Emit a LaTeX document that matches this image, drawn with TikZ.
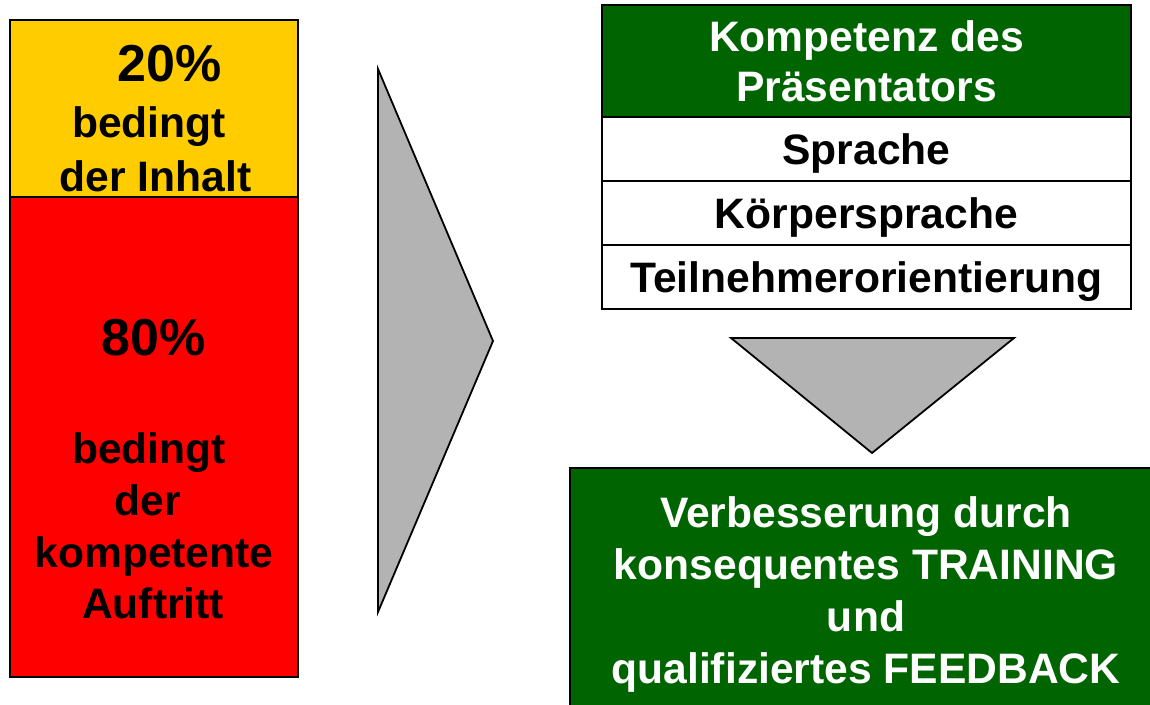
\documentclass[tikz,border=0pt]{standalone}
\usepackage{fontspec}
\setmainfont{Liberation Sans}
\definecolor{boxyellow}{HTML}{FFCC00}
\definecolor{boxred}{HTML}{FF0000}
\definecolor{boxgreen}{HTML}{006400}
\definecolor{arrowgray}{HTML}{B3B3B3}
\begin{document}
\begin{tikzpicture}[x=0.5pt,y=-0.5pt,
  outline/.style={draw=black, line width=0.9pt},
  txt/.style={font=\bfseries\fontsize{21.3}{25}\selectfont, anchor=base, inner sep=0pt},
  wtxt/.style={txt, text=white},
  bigtxt/.style={font=\bfseries\fontsize{26}{30}\selectfont, anchor=base, inner sep=0pt},
]
\useasboundingbox (0,0) rectangle (1150,705);

% left column
\path[outline, fill=boxyellow] (10,20) rectangle (298,197);
\path[outline, fill=boxred] (10,197) rectangle (298,677);

\node[bigtxt] (p20) at (170,82) {20\%};
\node[txt] (y1) at (149,138) {bedingt};
\node[txt] (y2) at (155.5,192) {der Inhalt};

\node[bigtxt] (p80) at (154,356) {80\%};
\node[txt] (r1) at (149,463) {bedingt};
\node[txt] (r2) at (148,515) {der};
\node[txt] (r3) at (154,567) {kompetente};
\node[txt] (r4) at (153,618) {Auftritt};

% right-pointing arrow
\path[outline, fill=arrowgray, line join=miter] (378,69) -- (493,341) -- (378,612) -- cycle;

% competence table
\path[outline, fill=boxgreen] (602,5) rectangle (1131,117);
\path[outline, fill=white] (602,117) rectangle (1131,181);
\path[outline, fill=white] (602,181) rectangle (1131,245);
\path[outline, fill=white] (602,245) rectangle (1131,309);

\node[wtxt] (h1) at (866.5,52) {Kompetenz des};
\node[wtxt] (h2) at (866.5,102) {Präsentators};
\node[txt] (t1) at (866.5,165) {Sprache};
\node[txt] (t2) at (866.5,229) {Körpersprache};
\node[txt] (t3) at (866.5,293) {Teilnehmerorientierung};

% down-pointing arrow
\path[outline, fill=arrowgray, line join=miter] (731,338) -- (1014,338) -- (872,453) -- cycle;

% result box
\path[outline, fill=boxgreen] (570,468) rectangle (1165,720);
\node[wtxt] (b1) at (866,527) {Verbesserung durch};
\node[wtxt] (b2) at (866,579) {konsequentes TRAINING};
\node[wtxt] (b3) at (866,631) {und};
\node[wtxt] (b4) at (866,683) {qualifiziertes FEEDBACK};
\end{tikzpicture}
\end{document}
